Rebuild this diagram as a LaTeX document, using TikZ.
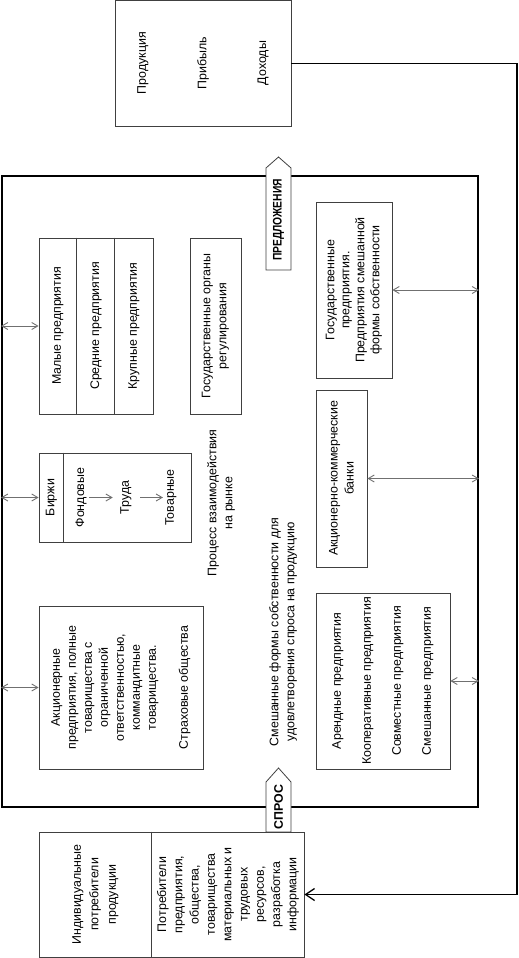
\documentclass[tikz,border=0pt]{standalone}
\usepackage{fontspec}
\setmainfont{Liberation Sans}
\usepackage{graphicx}
\usetikzlibrary{arrows.meta}
\definecolor{boxgray}{HTML}{404040}
\definecolor{arrgray}{HTML}{707070}
\begin{document}
\begin{tikzpicture}[x=1pt,y=-1pt,
 box/.style={draw=boxgray, line width=0.8pt, inner sep=0pt, fill=white},
 txt/.style={rotate=90, align=center, inner sep=1pt, font=\fontsize{12.4}{16}\selectfont},
 dbl/.style={draw=arrgray, line width=0.9pt, {Straight Barb[length=6pt,width=7pt]}-{Straight Barb[length=6pt,width=7pt]}},
 sarr/.style={draw=arrgray, line width=0.9pt, -{Straight Barb[length=6pt,width=7pt]}},
 frame/.style={draw=black, line width=2pt, inner sep=0pt},
 flow/.style={draw=black, line width=1.3pt, -{Straight Barb[length=9pt,width=12pt]}},
 ptr/.style={draw=boxgray, line width=0.8pt, fill=white},
 lbl/.style={rotate=90, inner sep=0pt, font=\fontsize{12.4}{15}\selectfont\bfseries}
]
\useasboundingbox (0,0) rectangle (519,958);
% outer frame
\node[frame, minimum width=476pt, minimum height=631pt] (frame) at (240,491.5) {};
% pentagon arrows
\draw[ptr] (266,270) -- (266,168) -- (278.5,157) -- (291,168) -- (291,270) -- cycle;
\node[lbl] (offer) at (278.5,220) {\scalebox{0.83}[1]{ПРЕДЛОЖЕНИЯ}};
\draw[ptr] (266,832) -- (266,782) -- (278.5,768) -- (291,782) -- (291,832) -- cycle;
\node[lbl] (demand) at (278.5,807) {СПРОС};
% top box
\node[box, minimum width=176pt, minimum height=125.5pt] (top) at (203,63.3) {};
\node[txt] (prod) at (143,63) {Продукция};
\node[txt] (prib) at (203,63) {Прибыль};
\node[txt] (doh) at (263,63) {Доходы};
% group of enterprises
\node[box, minimum width=114pt, minimum height=176pt] (g1) at (96,326) {};
\draw[boxgray, line width=0.8pt] (g1.north west) ++(38,0) -- ++(0,176);
\draw[boxgray, line width=0.8pt] (g1.north west) ++(76,0) -- ++(0,176);
\node[txt] (mal) at (58,326) {Малые предприятия};
\node[txt] (sred) at (96,326) {Средние предприятия};
\node[txt] (krup) at (134,326) {Крупные предприятия};
% gov organs
\node[box, minimum width=51pt, minimum height=176pt] (gorg) at (215.5,326) {};
\node[txt] (gorgt) at (215.5,326) {Государственные органы\\регулирования};
% gov enterprises
\node[box, minimum width=76pt, minimum height=176pt] (gent) at (354,290) {};
\node[txt, font=\fontsize{12.4}{15}\selectfont] (gentt) at (354,290) {Государственные\\предприятия.\\Предприятия смешанной\\формы собственности};
% banks
\node[box, minimum width=51pt, minimum height=177pt] (bank) at (341.5,478.5) {};
\node[txt] (bankt) at (341.5,478.5) {Акционерно-коммерческие\\банки};
% exchanges
\node[box, minimum width=152pt, minimum height=89pt] (birzh) at (115,497.5) {};
\draw[boxgray, line width=0.8pt] (birzh.north west) ++(25,0) -- ++(0,89);
\node[txt] (birzht) at (51.5,497.5) {Биржи};
\node[txt] (fond) at (81,497.5) {Фондовые};
\node[txt] (truda) at (126,497.5) {Труда};
\node[txt] (tovar) at (171,497.5) {Товарные};
\draw[sarr, shorten <=1.3pt, shorten >=6.5pt] (fond) -- (truda);
\draw[sarr, shorten <=7.5pt, shorten >=1.3pt] (truda) -- (tovar);
% free texts
\node[txt] (proc) at (221,503) {Процесс взаимодействия\\на рынке};
\node[txt] (mixed) at (283,632) {Смешанные формы собственности для\\удовлетворения спроса на продукцию};
% joint-stock
\node[box, minimum width=164pt, minimum height=163pt] (akc) at (121,687.5) {};
\node[txt] (akct) at (121,687.5) {Акционерные\\предприятия, полные\\товарищества с\\ограниченной\\ответственностью,\\коммандитные\\товарищества.\\[16pt]Страховые общества};
% lease etc.
\node[box, minimum width=134pt, minimum height=176pt] (arend) at (383,681) {};
\node[txt, font=\fontsize{12.4}{30}\selectfont] (arendt) at (383,681) {Арендные предприятия\\Кооперативные предприятия\\Совместные предприятия\\Смешанные предприятия};
% bottom box
\node[box, minimum width=265pt, minimum height=125pt] (bot) at (171.5,894.5) {};
\draw[boxgray, line width=0.8pt] (bot.north west) ++(113,0) -- ++(0,125);
\node[txt, font=\fontsize{12.4}{17.5}\selectfont] (indiv) at (95.5,894.5) {Индивидуальные\\потребители\\продукции};
\node[txt, font=\fontsize{12.4}{16.3}\selectfont] (potr) at (228,894.5) {Потребители\\предприятия,\\общества,\\товарищества\\материальных и\\трудовых\\ресурсов,\\разработка\\информации};
% double arrows
\draw[dbl] (frame.west |- g1.west) -- (g1.west);
\draw[dbl] (frame.west |- birzh.west) -- (birzh.west);
\draw[dbl] (frame.west |- akc.west) -- (akc.west);
\draw[dbl] (gent.east) -- (frame.east |- gent.east);
\draw[dbl] (bank.east) -- (frame.east |- bank.east);
\draw[dbl] (arend.east) -- (frame.east |- arend.east);
% main flow
\coordinate (corner) at (517,63.3);
\draw[flow] (top.east) -- (corner) |- (bot.east);
\end{tikzpicture}
\end{document}
